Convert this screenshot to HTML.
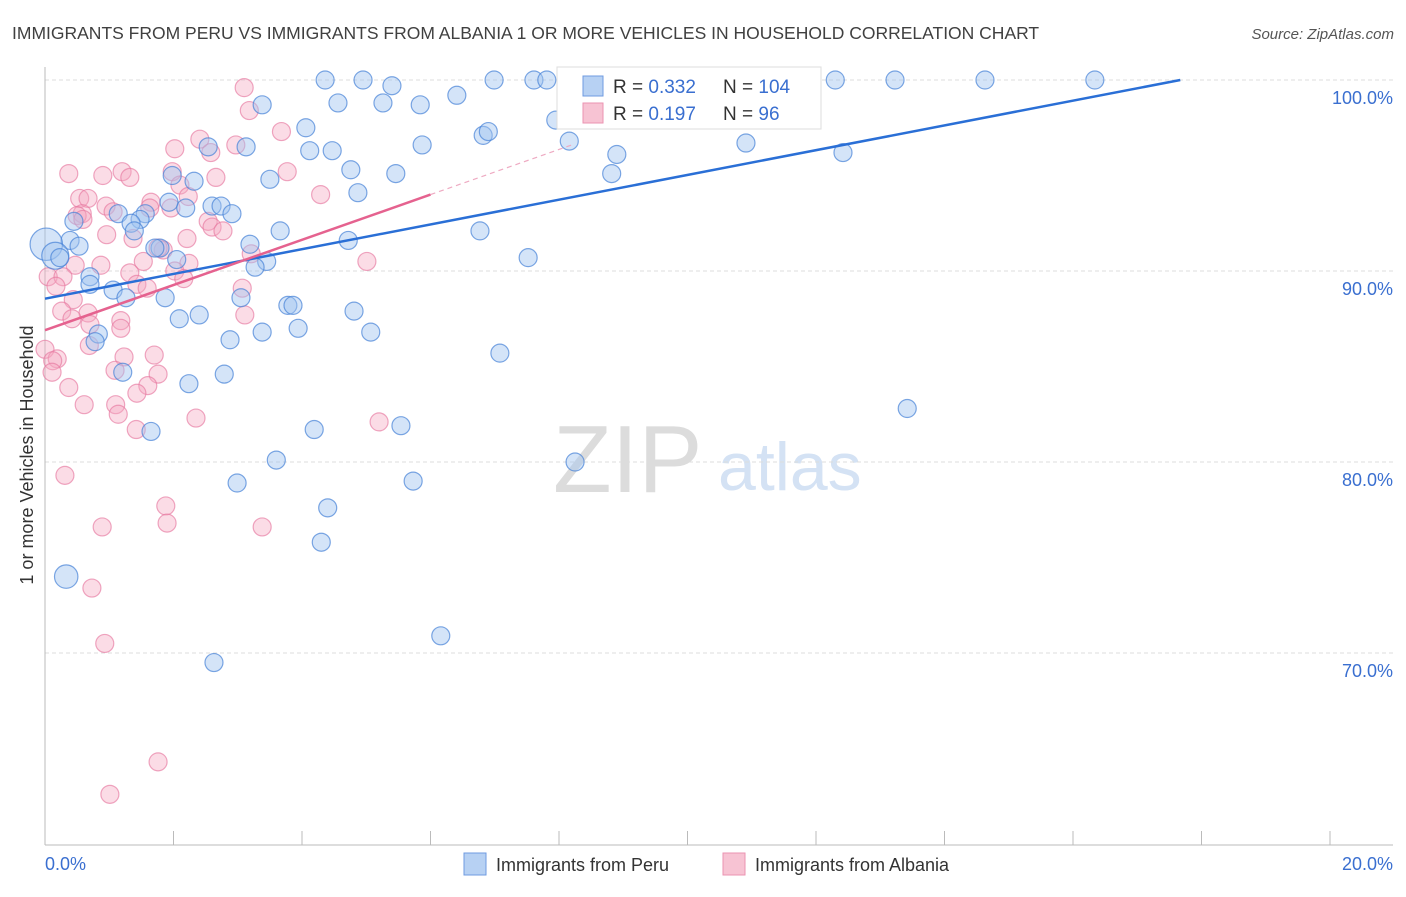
<!DOCTYPE html>
<html><head><meta charset="utf-8"><style>
body{margin:0;background:#fff;font-family:"Liberation Sans",sans-serif;}
svg text{font-family:"Liberation Sans",sans-serif;}
</style></head><body>
<svg id="chart" width="1406" height="892" xmlns="http://www.w3.org/2000/svg">
<text x="12" y="39" font-size="17.5" fill="#404040">IMMIGRANTS FROM PERU VS IMMIGRANTS FROM ALBANIA 1 OR MORE VEHICLES IN HOUSEHOLD CORRELATION CHART</text>
<text x="1394" y="39" font-size="15" fill="#555" font-style="italic" text-anchor="end">Source: ZipAtlas.com</text>
<g>
<text x="553" y="492" font-size="96" font-family="Liberation Serif" fill="#dcdcdc">ZIP</text>
<text x="718" y="490" font-size="68" fill="#d4e2f4">atlas</text>
</g>
<g id="grid"></g>
<g id="axes"></g>
<g id="pts"></g>
<g id="lines"></g>
<text transform="translate(33,455) rotate(-90)" font-size="18" fill="#333" text-anchor="middle">1 or more Vehicles in Household</text>
<g>
<rect x="557" y="67" width="264" height="62" fill="#fff" stroke="#ddd"/>
<rect x="583" y="76" width="20" height="20" fill="#b7d1f3" stroke="#6f9be0"/>
<rect x="583" y="103" width="20" height="20" fill="#f7c3d3" stroke="#eb93b1"/>
<text x="613" y="93" font-size="19" fill="#333">R = <tspan fill="#3a6fd0">0.332</tspan></text>
<text x="723" y="93" font-size="19" fill="#333">N = <tspan fill="#3a6fd0">104</tspan></text>
<text x="613" y="120" font-size="19" fill="#333">R = <tspan fill="#3a6fd0"> 0.197</tspan></text>
<text x="723" y="120" font-size="19" fill="#333">N = <tspan fill="#3a6fd0">  96</tspan></text>
</g>
<g>
<rect x="464" y="853" width="22" height="22" fill="#b7d1f3" stroke="#6f9be0"/>
<text x="496" y="871" font-size="18" fill="#333">Immigrants from Peru</text>
<rect x="723" y="853" width="22" height="22" fill="#f7c3d3" stroke="#eb93b1"/>
<text x="755" y="871" font-size="18" fill="#333">Immigrants from Albania</text>
</g>
</svg>
<script>
const yTicks=[100,90,80,70];
const yTickLabels=["100.0%","90.0%","80.0%","70.0%"];
const xTickLabels=["0.0%","20.0%"];
const peruX=[4.36,4.95,6.99,7.61,7.81,9.53,10.26,12.30,13.23,14.63,16.34,3.38,4.56,5.26,5.40,5.84,6.41,7.95,4.06,6.82,6.90,8.16,5.87,3.13,2.54,4.12,4.47,8.90,10.91,12.42,4.76,5.46,8.82,1.98,2.32,3.50,4.87,1.93,2.19,2.60,2.74,2.91,1.56,1.48,1.14,0.45,1.34,1.39,3.66,6.77,4.72,0.39,0.53,1.79,1.71,3.19,0.02,0.16,0.23,7.52,2.05,3.45,3.27,0.70,0.70,1.06,1.26,1.87,3.05,3.78,3.86,4.81,2.40,2.09,3.94,5.07,3.38,2.88,0.83,0.78,7.08,1.21,2.79,2.24,13.42,1.65,4.19,5.54,3.60,8.25,2.99,5.73,4.40,4.30,0.33,6.16,2.63];
const peruY=[100,100,100,100,100,100,100,100,100,100,100,98.7,98.8,98.8,99.7,98.7,99.2,97.9,97.5,97.1,97.3,96.8,96.6,96.5,96.5,96.3,96.3,96.1,96.7,96.2,95.3,95.1,95.1,95.0,94.7,94.8,94.1,93.6,93.3,93.4,93.4,93.0,93.0,92.7,93.0,92.6,92.5,92.1,92.1,92.1,91.6,91.6,91.3,91.2,91.2,91.4,91.4,90.8,90.7,90.7,90.6,90.5,90.2,89.7,89.3,89.0,88.6,88.6,88.6,88.2,88.2,87.9,87.7,87.5,87.0,86.8,86.8,86.4,86.7,86.3,85.7,84.7,84.6,84.1,82.8,81.6,81.7,81.9,80.1,80.0,78.9,79.0,77.6,75.8,74.0,70.9,69.5];
const peruSize=[1,1,1,1,1,1,1,1,1,1,1,1,1,1,1,1,1,1,1,1,1,1,1,1,1,1,1,1,1,1,1,1,1,1,1,1,1,1,1,1,1,1,1,1,1,1,1,1,1,1,1,1,1,1,1,1,1.8,1.5,1,1,1,1,1,1,1,1,1,1,1,1,1,1,1,1,1,1,1,1,1,1,1,1,1,1,1,1,1,1,1,1,1,1,1,1,1.3,1,1];
const albX=[3.10,3.18,3.68,2.41,2.02,2.97,2.58,3.77,0.37,1.20,1.98,0.90,1.32,2.66,2.10,2.23,4.29,0.54,0.67,1.65,1.63,1.96,0.95,1.06,0.58,0.50,0.59,2.54,2.60,2.77,0.96,1.37,2.21,1.84,1.76,3.21,5.01,1.53,2.24,0.47,0.87,0.05,0.28,2.02,2.16,1.32,1.43,1.59,0.17,3.07,0.44,0.67,0.26,1.18,3.11,0.70,0.42,1.18,0.69,0,0.19,0.12,1.23,1.70,0.11,1.09,1.76,0.37,1.60,1.43,0.61,1.10,2.35,5.20,1.14,1.42,0.31,1.88,1.90,0.89,3.38,0.73,0.93,1.76,1.01];
const albY=[99.6,98.4,97.3,96.9,96.4,96.6,96.2,95.2,95.1,95.2,95.2,95.0,94.9,94.9,94.5,93.9,94.0,93.8,93.8,93.6,93.3,93.3,93.4,93.1,93.0,92.9,92.7,92.6,92.3,92.1,91.9,91.7,91.7,91.1,91.2,90.9,90.5,90.5,90.4,90.3,90.3,89.7,89.7,90.0,89.6,89.9,89.3,89.1,89.2,89.1,88.5,87.8,87.9,87.4,87.7,87.2,87.5,87.0,86.1,85.9,85.4,85.3,85.5,85.6,84.7,84.8,84.6,83.9,84.0,83.6,83.0,83.0,82.3,82.1,82.5,81.7,79.3,77.7,76.8,76.6,76.6,73.4,70.5,64.3,62.6];
const peruTrend=[[0,88.55],[17.67,100]];
const albTrendSolid=[[0,86.9],[6.0,94.0]];
const albTrendDash=[[6.0,94.0],[8.2,96.6]];
const X=v=>45+v*64.25, Y=v=>80+(100-v)*19.1;
const NS="http://www.w3.org/2000/svg";
function mk(tag,attrs,parent){const e=document.createElementNS(NS,tag);for(const k in attrs)e.setAttribute(k,attrs[k]);parent.appendChild(e);return e;}
const grid=document.getElementById('grid'),axes=document.getElementById('axes'),pts=document.getElementById('pts'),lines=document.getElementById('lines');
yTicks.forEach((t,i)=>{
 const l=mk('line',{x1:45,x2:1393,y1:Y(t),y2:Y(t),stroke:'#ddd','stroke-dasharray':'4,3'},grid);
 
 
 const tx=mk('text',{x:1393,y:Y(t)+24,'font-size':18,fill:'#3a6fd0','text-anchor':'end'},grid);
 tx.textContent=yTickLabels[i];
 
 
});
const ax=mk('line',{x1:45,x2:45,y1:67,y2:845,stroke:'#bbb'},axes);


const bx=mk('line',{x1:45,x2:1393,y1:845,y2:845,stroke:'#bbb'},axes);


for(let i=0;i<=10;i++){
 const tk=mk('line',{x1:X(i*2),x2:X(i*2),y1:831,y2:845,stroke:'#bbb'},axes);
 
 
}
[[0,'start'],[20,'end']].forEach((p,i)=>{
 const t=mk('text',{x:i?1393:45,y:870,'font-size':18,fill:'#3a6fd0','text-anchor':p[1]},axes);
 t.textContent=xTickLabels[i];
 
 
});
albX.forEach((x,i)=>{
 const c=mk('circle',{cx:X(x),cy:Y(albY[i]),r:9,fill:'rgba(244,167,192,0.4)',stroke:'rgba(230,120,160,0.65)','stroke-width':1.2},pts);
 
 
});
peruX.forEach((x,i)=>{
 const c=mk('circle',{cx:X(x),cy:Y(peruY[i]),r:9*peruSize[i],fill:'rgba(160,195,240,0.45)',stroke:'rgba(70,130,215,0.7)','stroke-width':1.2},pts);
 
 
});
const l1=mk('line',{x1:X(peruTrend[0][0]),y1:Y(peruTrend[0][1]),x2:X(peruTrend[1][0]),y2:Y(peruTrend[1][1]),stroke:'#2a6fd6','stroke-width':2.5},lines);


const l2=mk('line',{x1:X(albTrendSolid[0][0]),y1:Y(albTrendSolid[0][1]),x2:X(albTrendSolid[1][0]),y2:Y(albTrendSolid[1][1]),stroke:'#e5628f','stroke-width':2.5},lines);


const l3=mk('line',{x1:X(albTrendDash[0][0]),y1:Y(albTrendDash[0][1]),x2:X(albTrendDash[1][0]),y2:Y(albTrendDash[1][1]),stroke:'#eeaac2','stroke-width':1.2,'stroke-dasharray':'5,4'},lines);


</script>
</body></html>
